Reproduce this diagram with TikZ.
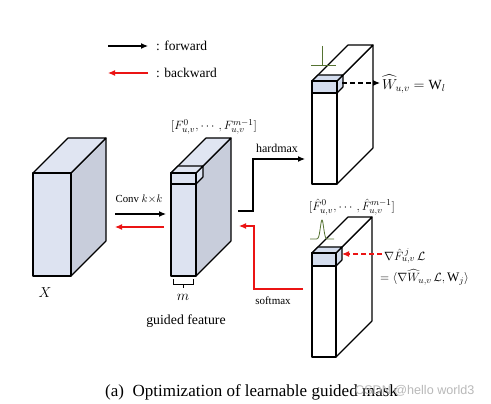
\documentclass[tikz,border=0pt]{standalone}
\usepackage{amsmath}
\usepackage{fontspec}
\setmainfont{Liberation Serif}
\newfontfamily\wmfont{Liberation Sans}
\usetikzlibrary{arrows.meta}
\definecolor{frontc}{RGB}{221,227,241}
\definecolor{sidec}{RGB}{200,205,219}
\definecolor{topc}{RGB}{224,229,242}
\definecolor{cubec}{RGB}{212,221,238}
\definecolor{gaussc}{RGB}{85,115,50}
\definecolor{redc}{RGB}{235,20,20}
% #1 x-left, #2 y-top, #3 x-right, #4 y-bottom, #5 depth, #6 front, #7 side, #8 top
\newcommand\drawcuboid[8]{%
  \filldraw[boxline,fill=#7] (#3,#2) -- (#3+#5,#2-#5) -- (#3+#5,#4-#5) -- (#3,#4) -- cycle;
  \filldraw[boxline,fill=#8] (#1,#2) -- (#1+#5,#2-#5) -- (#3+#5,#2-#5) -- (#3,#2) -- cycle;
  \filldraw[boxline,fill=#6] (#1,#2) rectangle (#3,#4);
}
\begin{document}
\begin{tikzpicture}[x=1pt,y=-1pt,
  boxline/.style={draw=black,line width=1.1pt,line join=round},
  fwd/.style={draw=black,line width=1.1pt,-{Latex[length=7pt,width=6pt]}},
  bwd/.style={draw=redc,line width=1.1pt,-{Latex[length=7pt,width=6pt]}},
  lbl/.style={inner sep=0pt,font=\fontsize{13.5}{15}\selectfont},
  mathlbl/.style={inner sep=0pt,font=\fontsize{12.3}{14}\selectfont}]
\useasboundingbox (0,0) rectangle (491,404);
\fill[white] (0,0) rectangle (491,404);

% legend
\coordinate (fa) at (108,46); \coordinate (fb) at (148,46);
\draw[fwd] (fa) -- (fb);
\node[lbl,anchor=west] (lf) at (156,46) {: forward};
\coordinate (ba) at (148,73); \coordinate (bb) at (108,73);
\draw[bwd] (ba) -- (bb);
\node[lbl,anchor=west] (lb) at (156,73) {: backward};

% input X
\drawcuboid{33}{173}{71}{276}{35}{frontc}{sidec}{topc}
\node[mathlbl,font=\fontsize{15}{17}\selectfont] (xl) at (45,293) {$X$};

% guided feature
\drawcuboid{171}{173}{196}{276}{35}{frontc}{sidec}{topc}
\drawcuboid{171}{173}{196}{184}{7}{frontc}{frontc}{topc}
\node[mathlbl] (gfl) at (214,127) {$[F^0_{u,v},\cdots,F^{m-1}_{u,v}]$};
\draw[line width=0.8pt] (173,279) -- (173,284) -- (193,284) -- (193,279) (183,284) -- (183,288);
\node[mathlbl,font=\fontsize{15}{17}\selectfont] (ml) at (183,297) {$m$};
\node[lbl,font=\fontsize{13.8}{15}\selectfont] (gft) at (186,321) {guided feature};

% conv arrows
\node[lbl,font=\fontsize{10.8}{12}\selectfont] (conv) at (139,199) {Conv $k{\times}k$};
\coordinate (c1) at (115,214); \coordinate (c2) at (166,214);
\draw[fwd] (c1) -- (c2);
\coordinate (c3) at (164,227); \coordinate (c4) at (115,227);
\draw[bwd] (c3) -- (c4);

% hardmax path
\coordinate (h0) at (238,211); \coordinate (h1) at (253,211);
\coordinate (h2) at (253,159); \coordinate (h3) at (305,159);
\draw[fwd] (h0) -- (h1) -- (h2) -- (h3);
\node[lbl,font=\fontsize{12}{13}\selectfont] (hm) at (277,148) {hardmax};

% softmax path
\coordinate (s0) at (303,289); \coordinate (s1) at (254,289);
\coordinate (s2) at (254,226); \coordinate (s3) at (239,226);
\draw[bwd] (s0) -- (s1) -- (s2) -- (s3);
\node[lbl,font=\fontsize{11}{12}\selectfont] (sm) at (273,301) {softmax};

% top-right block (hardmax)
\drawcuboid{312}{81}{337}{184}{36}{white}{white}{white}
\drawcuboid{312}{81}{337}{93}{6}{cubec}{cubec}{cubec}
\draw[gaussc,line width=0.8pt] (322,46) -- (322,65) (311,65) -- (336,65);
\coordinate (d0) at (342,83); \coordinate (d1) at (380,83);
\draw[fwd,dashed,dash pattern=on 5pt off 3pt] (d0) -- (d1);
\node[mathlbl,anchor=west,font=\fontsize{14}{16}\selectfont] (wl) at (382,84) {$\widehat{W}_{u,v}=\mathrm{W}_l$};

% bottom-right block (softmax)
\drawcuboid{312}{253}{336}{357}{36}{white}{white}{white}
\drawcuboid{312}{253}{336}{266}{6}{cubec}{cubec}{cubec}
\draw[gaussc,line width=0.8pt] plot[smooth,domain=-12:12,samples=60] ({322+\x},{239-19*exp(-(\x/2.3)^2)});
\node[mathlbl] (fhl) at (352,207) {$[\hat F^0_{u,v},\cdots,\hat F^{m-1}_{u,v}]$};
\coordinate (r0) at (382,254); \coordinate (r1) at (342,254);
\draw[bwd,dashed,dash pattern=on 5pt off 3pt] (r0) -- (r1);
\node[mathlbl,anchor=west,font=\fontsize{13}{15}\selectfont] (gl1) at (384,256) {$\nabla \hat F^{\,j}_{u,v}\,\mathcal{L}$};
\node[mathlbl,anchor=west,font=\fontsize{13}{15}\selectfont] (gl2) at (380,277) {$=\langle \nabla\widehat{W}_{u,v}\,\mathcal{L},\mathrm{W}_j\rangle$};

% caption
\node[lbl,anchor=west,font=\fontsize{17}{19}\selectfont] (cap) at (105,392) {(a)\ \ Optimization of learnable guided mask};
\node[inner sep=0pt,anchor=west,text=gray!55,font=\wmfont\fontsize{12.6}{14}\selectfont] (wm) at (355,391) {CSDN @hello world3};
\end{tikzpicture}
\end{document}
